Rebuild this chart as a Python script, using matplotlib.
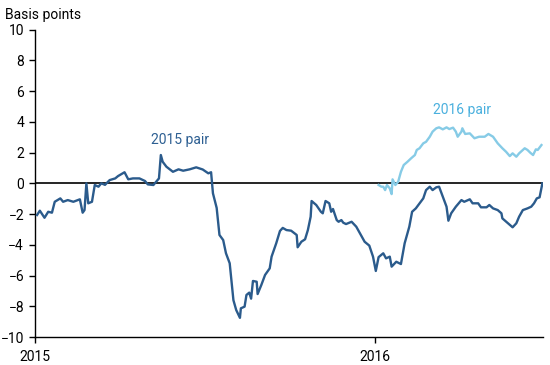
import matplotlib.pyplot as plt
import pandas as pd

plt.rcParams['font.family'] = ['Roboto', 'DejaVu Sans']

# dias desde 2015-01-01 y valores en puntos basicos
dias_2015 = [2, 5, 10, 14, 18, 21, 27, 30, 35, 41, 48, 51, 53, 55, 57, 61, 64, 68, 71, 75,
             80, 86, 89, 96, 100, 105, 112, 118, 121, 127, 130, 133, 135, 137, 141, 148, 154,
             159, 166, 173, 180, 186, 189, 191, 195, 198, 202, 205, 209, 213, 216, 220, 221,
             225, 227, 230, 232, 234, 238, 239, 243, 247, 252, 254, 259, 263, 266, 270, 275,
             281, 282, 286, 290, 293, 296, 297, 302, 307, 309, 312, 316, 318, 320, 324, 326,
             329, 331, 334, 340, 345, 349, 354, 359, 363, 366, 369, 374, 377, 381, 383, 388,
             393, 397, 402, 405, 409, 413, 417, 420, 424, 427, 431, 434, 438, 442, 444, 447,
             452, 458, 461, 467, 470, 476, 479, 485, 488, 492, 497, 501, 502, 508, 513, 517,
             520, 524, 529, 533, 536, 539, 542, 545]
par_2015 = [-2.06, -1.78, -2.24, -1.85, -1.91, -1.2, -0.98, -1.2, -1.09, -1.2, -1.04, -1.91,
            -1.74, 0.0, -1.3, -1.2, -0.11, -0.22, 0.0, -0.1, 0.21, 0.32, 0.47, 0.72, 0.26,
            0.32, 0.32, 0.15, -0.07, -0.11, 0.1, 0.32, 1.84, 1.4, 1.08, 0.75, 0.91, 0.82,
            0.91, 1.04, 0.9, 0.65, 0.72, -0.65, -1.6, -3.36, -3.69, -4.55, -5.2, -7.6, -8.24,
            -8.75, -8.13, -8.02, -7.26, -7.11, -7.5, -6.35, -6.4, -7.2, -6.61, -5.96, -5.53,
            -4.77, -3.9, -3.1, -2.9, -3.04, -3.08, -3.36, -4.16, -3.8, -3.64, -3.04, -2.17,
            -1.15, -1.41, -1.85, -1.95, -1.15, -1.3, -1.85, -1.67, -2.39, -2.5, -2.39, -2.56,
            -2.65, -2.5, -2.82, -3.25, -3.8, -4.05, -4.77, -5.7, -4.8, -4.55, -4.88, -4.77,
            -5.42, -5.1, -5.25, -3.9, -2.82, -1.85, -1.63, -1.3, -0.98, -0.44, -0.22, -0.44,
            -0.26, -0.22, -0.87, -1.52, -2.43, -1.95, -1.52, -1.09, -1.2, -1.04, -1.3, -1.3,
            -1.56, -1.56, -1.41, -1.63, -1.74, -1.95, -2.28, -2.6, -2.86, -2.6, -2.17, -1.74,
            -1.63, -1.52, -1.3, -0.98, -0.91, 0.0]

dias_2016 = [369, 372, 374, 376, 378, 381, 383, 384, 387, 390, 393, 396, 400, 404, 408, 410,
             413, 417, 420, 424, 427, 431, 434, 438, 442, 445, 449, 452, 454, 458, 459, 462,
             467, 472, 477, 483, 487, 492, 497, 502, 506, 510, 513, 517, 520, 526, 529, 532,
             535, 538, 540, 544]
par_2016 = [-0.11, -0.22, -0.22, -0.44, -0.11, -0.33, -0.7, 0.26, -0.11, 0.1, 0.75, 1.19,
            1.4, 1.63, 1.84, 2.17, 2.28, 2.6, 2.7, 3.03, 3.36, 3.58, 3.64, 3.51, 3.64, 3.53,
            3.62, 3.36, 3.03, 3.36, 3.58, 3.21, 3.25, 2.93, 3.03, 3.03, 3.21, 3.03, 2.6, 2.28,
            2.05, 1.77, 1.95, 1.73, 1.95, 2.28, 2.17, 1.99, 1.84, 2.21, 2.17, 2.49]

inicio = pd.Timestamp('2015-01-01')
fechas_2015 = inicio + pd.to_timedelta(dias_2015, unit='D')
fechas_2016 = inicio + pd.to_timedelta(dias_2016, unit='D')

azul = '#2b5b8c'
celeste = '#86cbe6'

fig = plt.figure(figsize=(5.5, 3.65), dpi=100)
ax = fig.add_axes([0.064, 0.0765, 0.923, 0.8425])

ax.axhline(0, color='black', lw=1.2, zorder=1)
ax.plot(fechas_2015, par_2015, color=azul, lw=1.7, zorder=3)
ax.plot(fechas_2016, par_2016, color=celeste, lw=1.7, zorder=2)

ax.text(inicio + pd.Timedelta(days=156), 2.8, '2015 pair', color='#2d5f92',
        fontsize=10, ha='center', va='center')
ax.text(inicio + pd.Timedelta(days=459), 4.75, '2016 pair', color='#4ab0de',
        fontsize=10, ha='center', va='center')

ax.set_ylim(-10, 10)
ax.set_yticks(range(-10, 11, 2))
ax.set_xlim(inicio, inicio + pd.Timedelta(days=545.5))
ax.set_xticks([pd.Timestamp('2015-01-01'), pd.Timestamp('2016-01-01')])
ax.set_xticklabels(['2015', '2016'])

for lado in ['top', 'right']:
    ax.spines[lado].set_visible(False)
for lado in ['left', 'bottom']:
    ax.spines[lado].set_linewidth(1.0)
ax.tick_params(axis='y', length=4, width=1, pad=4, labelsize=10)
ax.tick_params(axis='x', length=4, width=1, pad=5, labelsize=10)

fig.text(0.009, 0.96, 'Basis points', fontsize=10, ha='left', va='center')

fig.savefig('out.png', dpi=100)
